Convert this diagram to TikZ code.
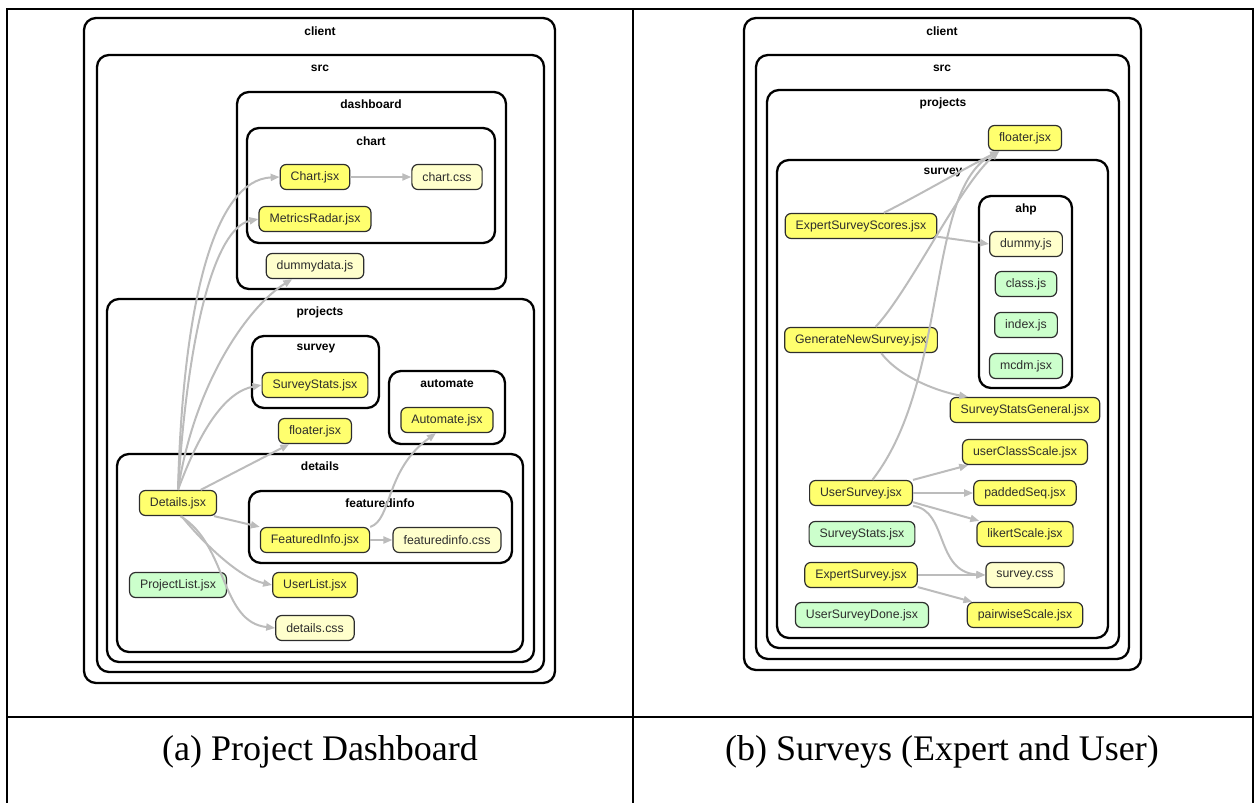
\documentclass[tikz,border=0pt]{standalone}
\usepackage{fontspec}
\setmainfont{Liberation Serif}
\setsansfont{Liberation Sans}
\usetikzlibrary{arrows.meta}
\definecolor{jsx}{RGB}{255,255,110}
\definecolor{asset}{RGB}{255,255,204}
\definecolor{orphan}{RGB}{204,255,204}
\definecolor{ink}{RGB}{45,45,45}
\definecolor{edgegray}{RGB}{188,188,188}

\begin{document}
\begin{tikzpicture}[x=1pt, y=-1pt,
    file/.style={draw=ink, line width=1.2pt, rounded corners=6pt, text=ink,
      font=\sffamily\fontsize{12.3}{14}\selectfont, minimum height=25pt,
      inner xsep=10.5pt, inner ysep=0pt},
    cluster/.style={draw, line width=2.3pt, rounded corners=12pt},
    clabel/.style={font=\sffamily\bfseries\fontsize{12}{14}\selectfont},
    uses/.style={draw=edgegray, line width=2pt, -{Triangle[length=9pt,width=7pt]}},
    tbl/.style={line width=2.6pt},
    caption/.style={font=\fontsize{36}{40}\selectfont}]
  \useasboundingbox (0,0) rectangle (1259,803);

  % table frame
  \draw[tbl] (7,803) -- (7,9) -- (1253,9) -- (1253,803);
  \draw[tbl] (633,9) -- (633,803);
  \draw[tbl] (7,717) -- (1253,717);
  \node[caption] (capa) at (320,752) {(a) Project Dashboard};
  \node[caption] (capb) at (942,752) {(b) Surveys (Expert and User)};

  % (a) folders
  \draw[cluster] (84,18) rectangle (555,683);
  \node[clabel] (lclient) at (320,31) {client};
  \draw[cluster] (97,55) rectangle (544,672);
  \node[clabel] (lsrc) at (320,68) {src};
  \draw[cluster] (237,92) rectangle (506,289);
  \node[clabel] (ldashboard) at (371,104) {dashboard};
  \draw[cluster] (247,128) rectangle (495,243);
  \node[clabel] (lchart) at (371,141) {chart};
  \draw[cluster] (107,299) rectangle (534,662);
  \node[clabel] (lprojects) at (320,312) {projects};
  \draw[cluster] (252,336) rectangle (379,408);
  \node[clabel] (lsurvey) at (316,349) {survey};
  \draw[cluster] (389,371) rectangle (505,444);
  \node[clabel] (lautomate) at (447,384) {automate};
  \draw[cluster] (117,454) rectangle (523,652);
  \node[clabel] (ldetails) at (320,466) {details};
  \draw[cluster] (249,491) rectangle (512,563);
  \node[clabel] (lfeatured) at (380,503) {featuredinfo};

  % (a) files
  \node[file, fill=jsx] (chartjsx) at (315,177) {Chart.jsx};
  \node[file, fill=asset] (chartcss) at (447,177) {chart.css};
  \node[file, fill=jsx] (metrics) at (315,219) {MetricsRadar.jsx};
  \node[file, fill=asset] (dummydata) at (315,266) {dummydata.js};
  \node[file, fill=jsx] (surveystats) at (315,385) {SurveyStats.jsx};
  \node[file, fill=jsx] (automate) at (447,420) {Automate.jsx};
  \node[file, fill=jsx] (floatera) at (315,431) {floater.jsx};
  \node[file, fill=jsx] (details) at (178,503) {Details.jsx};
  \node[file, fill=jsx] (featured) at (315,540) {FeaturedInfo.jsx};
  \node[file, fill=asset] (featuredcss) at (447,540) {featuredinfo.css};
  \node[file, fill=orphan] (projectlist) at (178,585) {ProjectList.jsx};
  \node[file, fill=jsx] (userlist) at (315,585) {UserList.jsx};
  \node[file, fill=asset] (detailscss) at (315,628) {details.css};

  % (a) imports
  \draw[uses] (details.north) .. controls (183,300) and (215,180) .. (chartjsx.west);
  \draw[uses] (details.north) .. controls (188,330) and (215,228) .. (metrics.west);
  \draw[uses] (details.north) .. controls (195,380) and (250,305) .. (dummydata.-150);
  \draw[uses] (details.north) .. controls (200,430) and (225,392) .. (surveystats.west);
  \draw[uses] (details.30) -- (floatera.-153);
  \draw[uses] (details.-20) -- (featured.north west);
  \draw[uses] (details.-75) .. controls (205,545) and (240,578) .. (userlist.west);
  \draw[uses] (details.-80) .. controls (228,545) and (220,622) .. (detailscss.west);
  \draw[uses] (chartjsx) -- (chartcss);
  \draw[uses] (featured) -- (featuredcss);
  \draw[uses] (featured.north east) .. controls (392,520) and (385,470) .. (automate.-130);

  % (b) folders
  \draw[cluster] (744,18) rectangle (1141,670);
  \node[clabel] (lclientb) at (942,31) {client};
  \draw[cluster] (756,55) rectangle (1129,659);
  \node[clabel] (lsrcb) at (942,68) {src};
  \draw[cluster] (767,90) rectangle (1119,648);
  \node[clabel] (lprojectsb) at (943,103) {projects};
  \draw[cluster] (777,160) rectangle (1108,638);
  \node[clabel] (lsurveyb) at (943,173) {survey};
  \draw[cluster] (979,196) rectangle (1072,388);
  \node[clabel] (lahp) at (1026,209) {ahp};

  % (b) files
  \node[file, fill=jsx] (floaterb) at (1025,138) {floater.jsx};
  \node[file, fill=jsx] (ess) at (861,226) {ExpertSurveyScores.jsx};
  \node[file, fill=asset] (dummy) at (1026,244) {dummy.js};
  \node[file, fill=orphan] (classjs) at (1026,284) {class.js};
  \node[file, fill=orphan] (indexjs) at (1026,325) {index.js};
  \node[file, fill=orphan] (mcdm) at (1026,366) {mcdm.jsx};
  \node[file, fill=jsx] (gns) at (861,340) {GenerateNewSurvey.jsx};
  \node[file, fill=jsx] (ssg) at (1025,410) {SurveyStatsGeneral.jsx};
  \node[file, fill=jsx] (ucs) at (1025,452) {userClassScale.jsx};
  \node[file, fill=jsx] (usurvey) at (861,493) {UserSurvey.jsx};
  \node[file, fill=jsx] (padded) at (1025,493) {paddedSeq.jsx};
  \node[file, fill=orphan] (sstats) at (862,534) {SurveyStats.jsx};
  \node[file, fill=jsx] (likert) at (1025,534) {likertScale.jsx};
  \node[file, fill=jsx] (expert) at (861,575) {ExpertSurvey.jsx};
  \node[file, fill=asset] (surveycss) at (1025,575) {survey.css};
  \node[file, fill=orphan] (usdone) at (862,615) {UserSurveyDone.jsx};
  \node[file, fill=jsx] (pairwise) at (1025,615) {pairwiseScale.jsx};

  % (b) imports
  \draw[uses] (ess.30) .. controls (925,192) and (965,168) .. (floaterb.-153);
  \draw[uses] (ess.-8) -- (dummy.west);
  \draw[uses] (gns.42) .. controls (910,290) and (960,185) .. (floaterb.-153);
  \draw[uses] (gns.-33) .. controls (900,378) and (940,392) .. (ssg.167);
  \draw[uses] (usurvey.49) .. controls (950,380) and (925,190) .. (floaterb.-153);
  \draw[uses] (usurvey.north east) -- (ucs.-167);
  \draw[uses] (usurvey) -- (padded);
  \draw[uses] (usurvey.-10) -- (likert.164);
  \draw[uses] (usurvey.-14) .. controls (948,510) and (935,572) .. (surveycss.west);
  \draw[uses] (expert) -- (surveycss);
  \draw[uses] (expert.-12) -- (pairwise.166);
\end{tikzpicture}
\end{document}
